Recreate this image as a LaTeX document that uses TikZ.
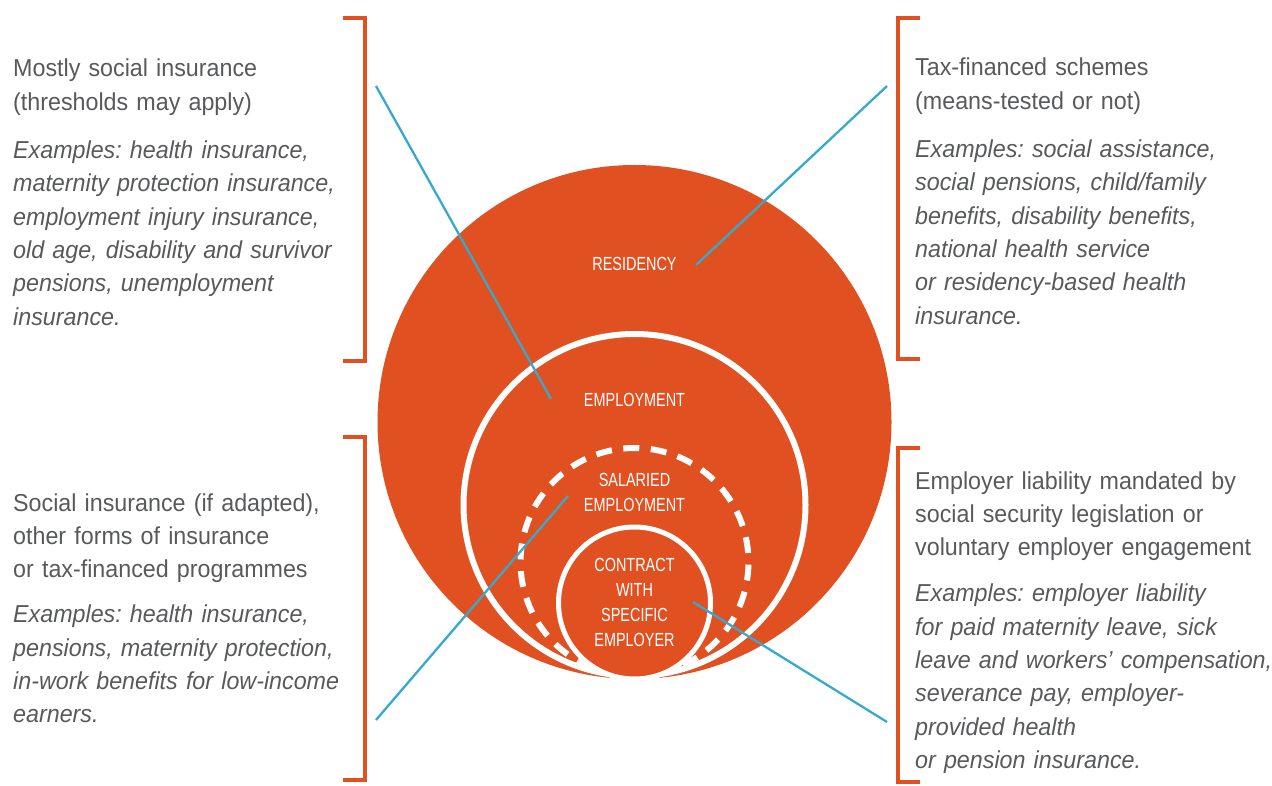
\documentclass[tikz,border=0pt]{standalone}
\usepackage{fontspec}
\setmainfont{Liberation Sans}
\newfontfamily\bodyfont[FakeStretch=0.95]{Liberation Sans}
\newfontfamily\ringfont[FakeStretch=0.76]{Liberation Sans}
\usepackage{tikz}
\usetikzlibrary{positioning}
\definecolor{iloorange}{HTML}{E05021}
\definecolor{iloblue}{HTML}{36A9CC}
\definecolor{ilogray}{HTML}{58595B}
\frenchspacing

\begin{document}
\begin{tikzpicture}[x=1pt,y=-1pt,
  bracket/.style={draw=iloorange,line width=4pt},
  pointer/.style={draw=iloblue,line width=2.3pt},
  ring/.style={draw=white,line width=6pt,fill=iloorange},
  ringlabel/.style={text=white,align=center,inner sep=0pt,
    font=\ringfont\fontsize{19}{25}\selectfont},
  blurb/.style={text=ilogray,anchor=base west,inner sep=0pt,text width=360pt,
    align=left,font=\bodyfont\fontsize{24.5}{33.3}\selectfont}]
\useasboundingbox (0,0) rectangle (1272,786);
% nested circles, all touching at the bottom
\fill[iloorange] (634.5,422) circle (257);
\draw[ring] (634.5,505) circle (171);
\draw[ring,dash pattern=on 16pt off 11.55pt,dash phase=25pt] (634.5,562) circle (114);
\draw[ring,line width=5pt] (634.5,603) circle (76);
\node[ringlabel] (residency) at (634.5,264) {RESIDENCY};
\node[ringlabel] (employment) at (634.5,400) {EMPLOYMENT};
\node[ringlabel] (salaried) at (634.5,492.5) {SALARIED\\EMPLOYMENT};
\node[ringlabel] (contract) at (634.5,602.5) {CONTRACT\\WITH\\SPECIFIC\\EMPLOYER};
% brackets
\draw[bracket] (343,18) -- (365,18) -- (365,361) -- (343,361);
\draw[bracket] (343,437) -- (365,437) -- (365,780) -- (343,780);
\draw[bracket] (920,18) -- (898,18) -- (898,359) -- (920,359);
\draw[bracket] (920,448) -- (898,448) -- (898,782) -- (920,782);
% text blocks
\node[blurb] (social) at (13,77) {Mostly social insurance\\(thresholds may apply)\\[15pt]
  \itshape Examples: health insurance,\\maternity protection insurance,\\employment injury insurance,\\old age, disability and survivor\\pensions, unemployment\\insurance.};
\node[blurb] (tax) at (915,76) {Tax-financed schemes\\(means-tested or not)\\[15pt]
  \itshape Examples: social assistance,\\social pensions, child/family\\benefits, disability benefits,\\national health service\\or residency-based health\\insurance.};
\node[blurb] (adapted) at (13,511) {Social insurance (if adapted),\\other forms of insurance\\or tax-financed programmes\\[12pt]
  \itshape Examples: health insurance,\\pensions, maternity protection,\\in-work benefits for low-income\\earners.};
\node[blurb] (liability) at (915,489) {Employer liability mandated by\\social security legislation or\\voluntary employer engagement\\[13pt]
  \itshape Examples: employer liability\\for paid maternity leave, sick\\leave and workers’ compensation,\\severance pay, employer-\\provided health\\or pension insurance.};
% pointers
\coordinate (socialend) at (376,86);
\coordinate (taxend) at (887,86);
\coordinate (adaptedend) at (376,720);
\coordinate (liabilityend) at (887,722);
\coordinate (employmentend) at (551,399);
\coordinate (residencyend) at (696,265);
\coordinate (salariedend) at (568,496);
\coordinate (contractend) at (693,602);
\draw[pointer] (socialend) -- (employmentend);
\draw[pointer] (taxend) -- (residencyend);
\draw[pointer] (adaptedend) -- (salariedend);
\draw[pointer] (liabilityend) -- (contractend);
\end{tikzpicture}
\end{document}
